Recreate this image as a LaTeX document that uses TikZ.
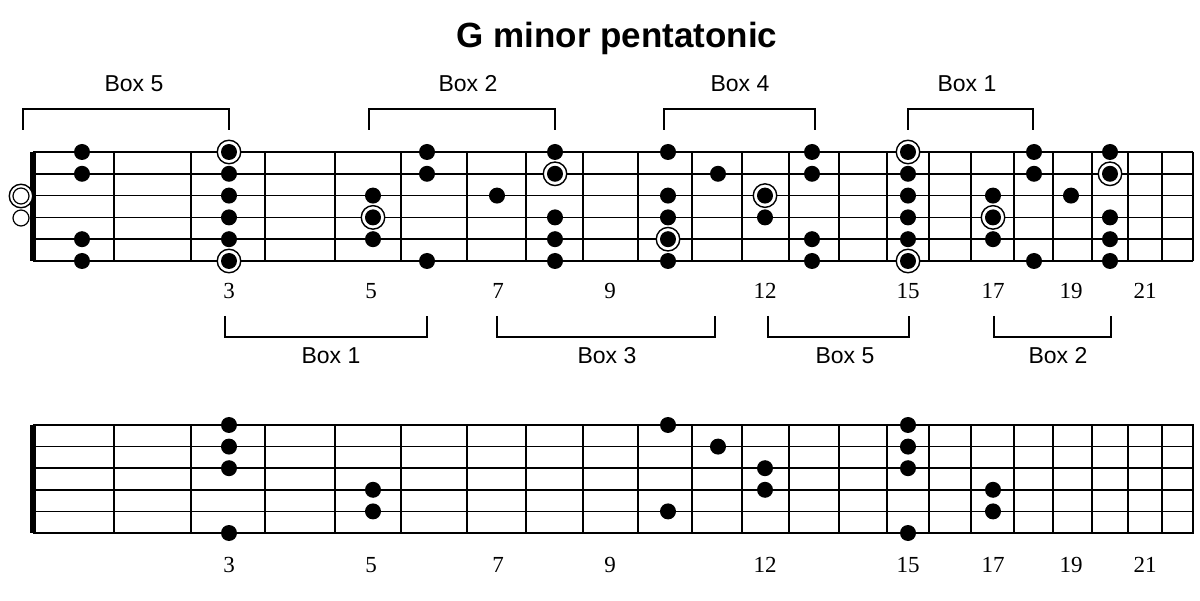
\documentclass[tikz,border=0pt]{standalone}
\usepackage{fontspec}
\setmainfont{Liberation Serif}
\setsansfont{Liberation Sans}
\def\fretlist{114,191,265,335,401,467,526,583,638,692,742,789,839,887,929,971,1014,1053,1092,1128,1162,1193}
\def\numlist{229/3,371/5,498/7,610/9,765/12,908/15,993/17,1071/19,1145/21}
\begin{document}
\begin{tikzpicture}[x=1pt,y=-1pt,
  dot/.style={circle,fill=black,inner sep=0pt,minimum size=16pt},
  ring/.style={circle,draw=black,fill=white,line width=1.4pt,inner sep=0pt,minimum size=23.5pt},
  open/.style={circle,draw=black,fill=white,line width=1.2pt,inner sep=0pt,minimum size=16pt},
  fretnum/.style={anchor=base,font=\fontsize{23}{23}\selectfont},
  boxlabel/.style={anchor=base,font=\sffamily\fontsize{23}{23}\selectfont},
  bracket/.style={line width=1.5pt}]
 \useasboundingbox (0,0) rectangle (1200,601);
 \node[anchor=base,font=\sffamily\bfseries\fontsize{35}{35}\selectfont] (title) at (617,48) {G minor pentatonic}; %title

 %% upper fretboard
 \foreach \s in {0,...,5}
   \draw[line width=1.6pt] (33,152+21.8*\s)--(1193,152+21.8*\s); %strings
 \foreach \f in \fretlist
   \draw[line width=2.4pt] (\f,152)--(\f,261); %frets
 \draw[line width=6pt] (33,152)--(33,261); %nut
 \node[ring] (ropen) at (21,196) {};
 \node[open] (open3) at (21,196) {}; %open G
 \node[open] (open4) at (21,218) {}; %open D
 \foreach \x/\s in {229/1,229/6,373/4,555/2,668/5,765/3,908/1,908/6,993/4,1110/2}
   \node[ring] (r\x-\s) at (\x,152+21.8*\s-21.8) {}; %roots
 \foreach \x/\ss in {82/{1,2,5,6},229/{1,2,3,4,5,6},373/{3,4,5},427/{1,2,6},497/{3},
     555/{1,2,4,5,6},668/{1,3,4,5,6},718/{2},765/{3,4},812/{1,2,5,6},908/{1,2,3,4,5,6},
     993/{3,4,5},1034/{1,2,6},1071/{3},1110/{1,2,4,5,6}}
   \foreach \s in \ss
     \node[dot] (t\x-\s) at (\x,152+21.8*\s-21.8) {};
 \foreach \x/\n in \numlist
   \node[fretnum] (tn\n) at (\x,299) {\n};

 %% boxes above
 \foreach \a/\b/\c/\k in {23/229/134/5,369/555/468/2,664/815/740/4,908/1033/967/1}{
   \draw[bracket] (\a,130)--(\a,109)--(\b,109)--(\b,130);
   \node[boxlabel] (ta\a) at (\c,92) {Box \k};}
 %% boxes below
 \foreach \a/\b/\c/\k in {225/427/331/1,497/715/607/3,768/909/845/5,994/1111/1058/2}{
   \draw[bracket] (\a,316)--(\a,337)--(\b,337)--(\b,316);
   \node[boxlabel] (tb\a) at (\c,364) {Box \k};}

 %% lower fretboard
 \foreach \s in {0,...,5}
   \draw[line width=1.6pt] (33,425+21.6*\s)--(1194,425+21.6*\s);
 \foreach \f in \fretlist
   \draw[line width=2.4pt] (\f,425)--(\f,533);
 \draw[line width=6pt] (33,425)--(33,533);
 \foreach \x/\ss in {229/{1,2,3,6},373/{4,5},668/{1,5},718/{2},765/{3,4},908/{1,2,3,6},993/{4,5}}
   \foreach \s in \ss
     \node[dot] (b\x-\s) at (\x,425+21.6*\s-21.6) {};
 \foreach \x/\n in \numlist
   \node[fretnum] (bn\n) at (\x,572) {\n};
\end{tikzpicture}
\end{document}
